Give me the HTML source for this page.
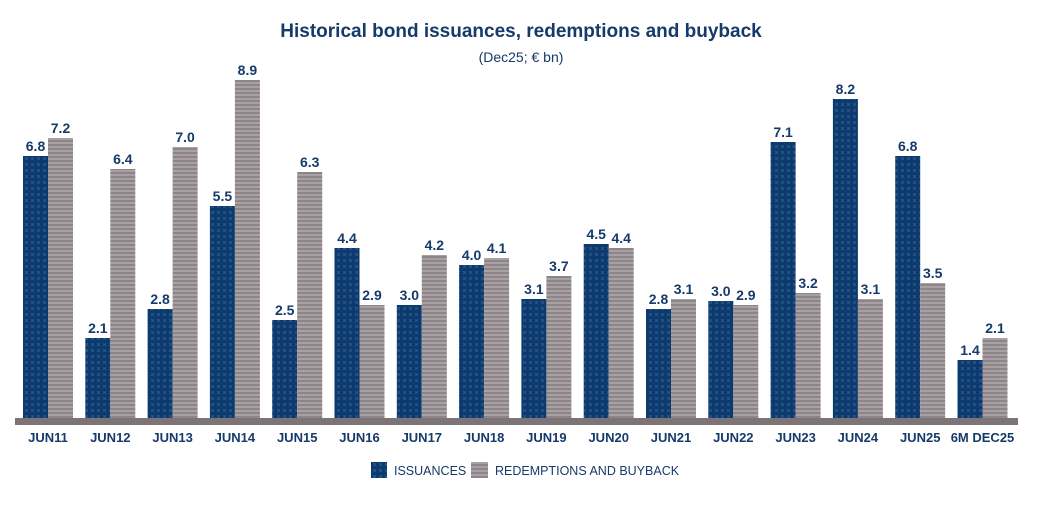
<!DOCTYPE html>
<html><head><meta charset="utf-8"><style>
body{margin:0;background:#fff;}
svg text{font-family:"Liberation Sans",sans-serif;}
</style></head><body>
<svg width="1043" height="501" viewBox="0 0 1043 501" xmlns="http://www.w3.org/2000/svg">
<defs>
<pattern id="pn" width="6" height="6" patternUnits="userSpaceOnUse">
<rect width="6" height="6" fill="#0b3a6f"/>
<path d="M1 1L4 4M4 1L1 4" stroke="#3a5f8e" stroke-width="0.7"/>
</pattern>
<pattern id="pg" width="4" height="4" patternUnits="userSpaceOnUse">
<rect width="4" height="4" fill="#8d8589"/>
<rect y="2" width="4" height="2" fill="#a8a1a4"/>
</pattern>
</defs>
<text x="521" y="37" text-anchor="middle" font-size="19" font-weight="bold" fill="#163a6a">Historical bond issuances, redemptions and buyback</text>
<text x="521" y="62" text-anchor="middle" font-size="14" fill="#163a6a">(Dec25; € bn)</text>
<g id="bars" font-size="14" font-weight="bold" fill="#163a6a" text-anchor="middle"></g>
<rect x="15" y="418" width="1003" height="7" fill="#7d7478"/>
<g id="labels" font-size="13" font-weight="bold" fill="#163a6a" text-anchor="middle"></g>
<rect x="371" y="462" width="16" height="16" fill="url(#pn)"/>
<text x="394" y="475" font-size="12.5" fill="#163a6a">ISSUANCES</text>
<rect x="471" y="462" width="17" height="16" fill="url(#pg)"/>
<text x="495" y="475" font-size="12.5" fill="#163a6a">REDEMPTIONS AND BUYBACK</text>
</svg>
<script>
var d=[["JUN11",6.8,156,7.2,138],["JUN12",2.1,338,6.4,169],["JUN13",2.8,309,7.0,147],["JUN14",5.5,206,8.9,80],["JUN15",2.5,320,6.3,172],["JUN16",4.4,248,2.9,305],["JUN17",3.0,305,4.2,255],["JUN18",4.0,265,4.1,258],["JUN19",3.1,299,3.7,276],["JUN20",4.5,244,4.4,248],["JUN21",2.8,309,3.1,299],["JUN22",3.0,301,2.9,305],["JUN23",7.1,142,3.2,293],["JUN24",8.2,99,3.1,299],["JUN25",6.8,156,3.5,283],["6M DEC25",1.4,360,2.1,338]];
var ns="http://www.w3.org/2000/svg",b=document.getElementById("bars"),l=document.getElementById("labels");
function el(p,t,a,txt){var e=document.createElementNS(ns,t);for(var k in a)e.setAttribute(k,a[k]);if(txt)e.textContent=txt;p.appendChild(e);}
d.forEach(function(r,i){var x=23+i*62.3;
el(b,"rect",{x:x,y:r[2],width:25,height:418-r[2],fill:"url(#pn)"});
el(b,"rect",{x:x+25,y:r[4],width:25,height:418-r[4],fill:"url(#pg)"});
el(b,"text",{x:x+12.5,y:r[2]-5},r[1].toFixed(1));
el(b,"text",{x:x+37.5,y:r[4]-5},r[3].toFixed(1));
el(l,"text",{x:x+25,y:442},r[0]);});
</script>
</body></html>
